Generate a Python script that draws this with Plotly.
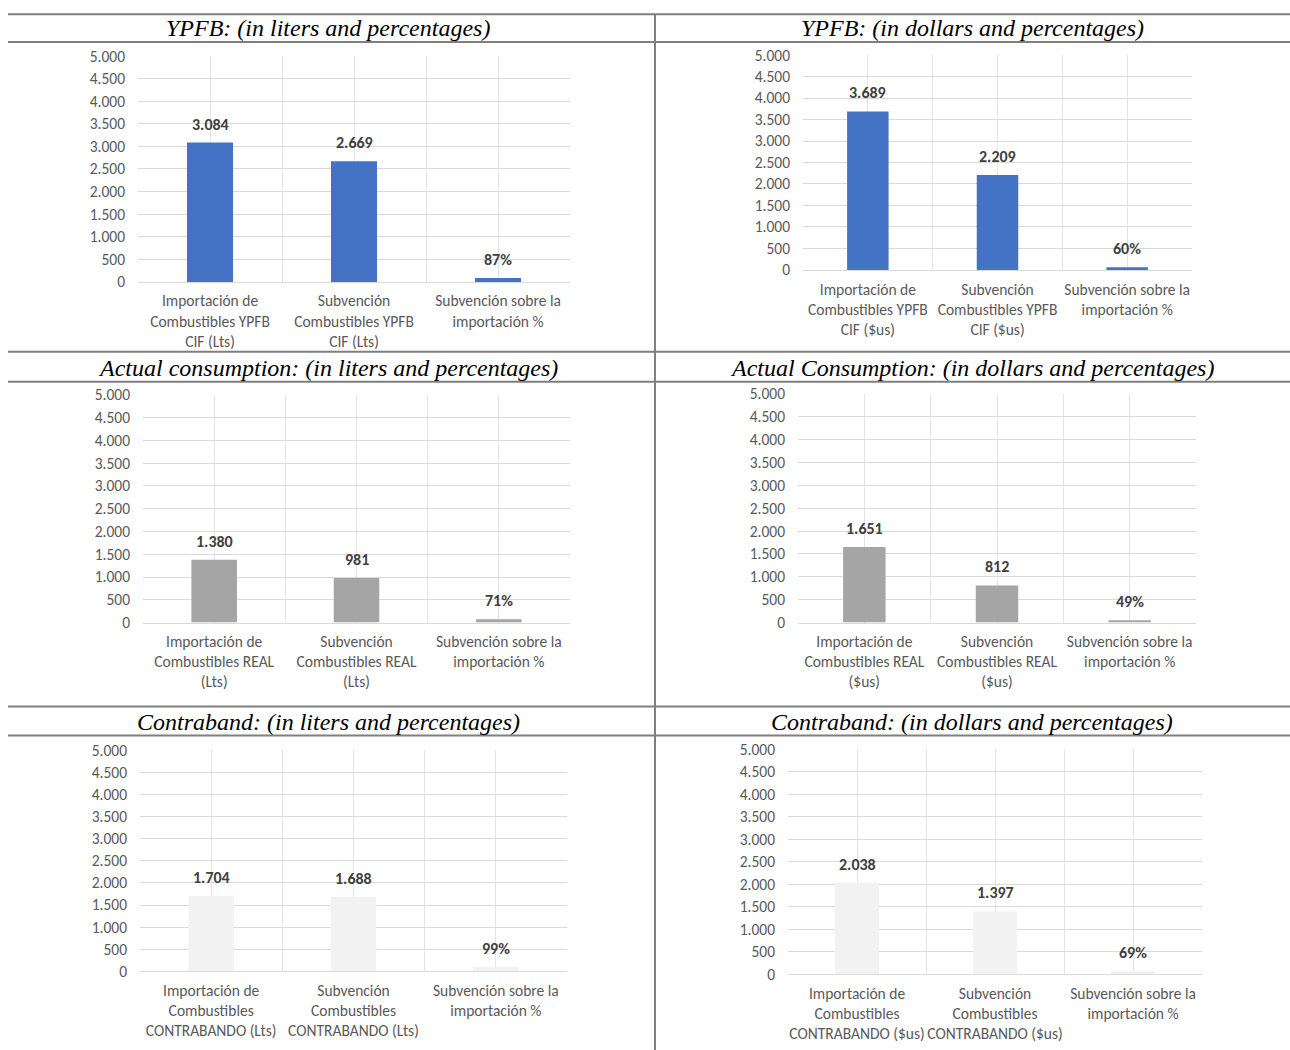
import plotly.graph_objects as go

W, H = 1290, 1062
SCALE, OFF = 0.983, 8  # observed vertical page mapping: shown = SCALE * (fig_y + OFF)

titles = [
    "YPFB: (in liters and percentages)",
    "YPFB: (in dollars and percentages)",
    "Actual consumption: (in liters and percentages)",
    "Actual Consumption: (in dollars and percentages)",
    "Contraband: (in liters and percentages)",
    "Contraband: (in dollars and percentages)",
]

cats_1 = ["Importación de<br>Combustibles YPFB<br>CIF (Lts)", "Subvención<br>Combustibles YPFB<br>CIF (Lts)", "Subvención sobre la<br>importación %"]
cats_2 = ["Importación de<br>Combustibles YPFB<br>CIF ($us)", "Subvención<br>Combustibles YPFB<br>CIF ($us)", "Subvención sobre la<br>importación %"]
cats_3 = ["Importación de<br>Combustibles REAL<br>(Lts)", "Subvención<br>Combustibles REAL<br>(Lts)", "Subvención sobre la<br>importación %"]
cats_4 = ["Importación de<br>Combustibles REAL<br>($us)", "Subvención<br>Combustibles REAL<br>($us)", "Subvención sobre la<br>importación %"]
cats_5 = ["Importación de<br>Combustibles<br>CONTRABANDO (Lts)", "Subvención<br>Combustibles<br>CONTRABANDO (Lts)", "Subvención sobre la<br>importación %"]
cats_6 = ["Importación de<br>Combustibles<br>CONTRABANDO ($us)", "Subvención<br>Combustibles<br>CONTRABANDO ($us)", "Subvención sobre la<br>importación %"]

vals_1 = [3084, 2669, 87]
vals_2 = [3689, 2209, 60]
vals_3 = [1380, 981, 71]
vals_4 = [1651, 812, 49]
vals_5 = [1704, 1688, 99]
vals_6 = [2038, 1397, 69]

colors = ["#4472C4", "#4472C4", "#A5A5A5", "#A5A5A5", "#F2F2F2", "#F2F2F2"]

y_ticks = [0, 500, 1000, 1500, 2000, 2500, 3000, 3500, 4000, 4500, 5000]

# plot-area pixel boxes in page coordinates (left, right, top, bottom)
boxes = [
    (138, 570, 54, 280),
    (803, 1192, 53, 268),
    (143, 570, 393, 621),
    (798, 1196, 392, 621),
    (140, 567, 749, 970),
    (788, 1202, 748, 973),
]

cats = [cats_1, cats_2, cats_3, cats_4, cats_5, cats_6]
vals = [vals_1, vals_2, vals_3, vals_4, vals_5, vals_6]

FONT = "Carlito, 'Liberation Sans Narrow', 'Open Sans', sans-serif"


def py(y):
    fy = y / SCALE - OFF
    return 1 - fy / H


def fmt(v, pct):
    if pct:
        return f"<b>{v}%</b>"
    return "<b>" + f"{v:,}".replace(",", ".") + "</b>"


fig = go.Figure()
layout = {}
annotations = []
for i in range(6):
    n = "" if i == 0 else str(i + 1)
    xa, ya = "x" + n, "y" + n
    x = list(range(len(cats[i])))
    fig.add_trace(go.Bar(
        x=x, y=vals[i], width=0.32,
        marker=dict(color=colors[i], line=dict(width=0)),
        xaxis=xa, yaxis=ya, showlegend=False, hoverinfo="skip",
    ))
    for j, v in enumerate(vals[i]):
        annotations.append(dict(
            x=x[j], y=v, xref=xa, yref=ya, text=fmt(v, j == 2),
            showarrow=False, xanchor="center", yanchor="bottom", yshift=7,
            font=dict(family=FONT, size=16, color="#404040"),
        ))
    l, r, t, b = boxes[i]
    tv, tt = [], []
    for k in range(len(x)):
        tv += [k - 0.5, k]
        tt += ["", cats[i][k]]
    layout["xaxis" + n] = dict(
        domain=[l / W, r / W], anchor=ya, range=[-0.5, 2.5],
        tickmode="array", tickvals=tv, ticktext=tt,
        showgrid=True, gridcolor="#E3E3E3", gridwidth=1,
        zeroline=False, showline=True, linecolor="#D9D9D9", linewidth=1,
        ticks="", ticklabelstandoff=5,
        tickfont=dict(family=FONT, size=15.5, color="#595959"),
        fixedrange=True,
    )
    layout["yaxis" + n] = dict(
        domain=[py(b), py(t)], anchor=xa, range=[0, 5000],
        tickmode="array", tickvals=y_ticks, tickformat=",",
        showgrid=True, gridcolor="#D9D9D9", gridwidth=1,
        zeroline=False, showline=False, ticks="", ticklabelstandoff=12,
        tickfont=dict(family=FONT, size=15.5, color="#595959"),
        fixedrange=True,
    )

fig.update_layout(**layout)

# table lines
shapes = []
for yy in [12, 40, 350, 380, 705, 734]:
    shapes.append(dict(type="line", xref="paper", yref="paper",
                       x0=8 / W, x1=1.0, y0=py(yy), y1=py(yy),
                       line=dict(color="#7F7F7F", width=2), layer="below"))
shapes.append(dict(type="line", xref="paper", yref="paper",
                   x0=655 / W, x1=655 / W, y0=py(12), y1=0,
                   line=dict(color="#7F7F7F", width=2), layer="below"))

title_pos = [(328, 26), (972, 26), (328, 366), (972, 366), (328, 721), (972, 721)]
for i, (tx, ty) in enumerate(title_pos):
    annotations.append(dict(
        text="<i>" + titles[i] + "</i>", xref="paper", yref="paper",
        x=tx / W, y=py(ty), xanchor="center", yanchor="middle",
        showarrow=False,
        font=dict(family="'Liberation Serif', 'Times New Roman', serif", size=24, color="#000000"),
    ))

fig.update_layout(
    width=W, height=H, margin=dict(l=0, r=0, t=0, b=0),
    paper_bgcolor="white", plot_bgcolor="white",
    separators=",.", shapes=shapes, annotations=annotations,
)

fig.write_html("out.html")
